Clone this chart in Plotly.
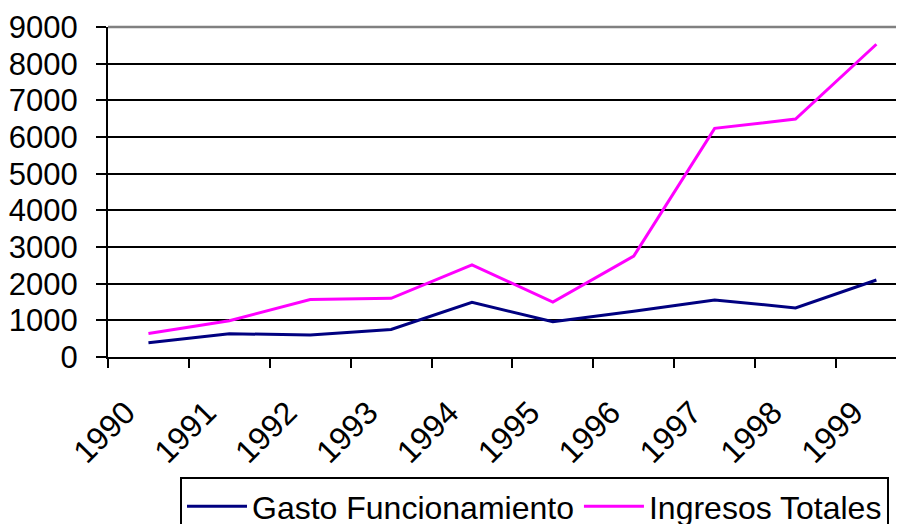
import plotly.graph_objects as go

# Data
years = ['1990', '1991', '1992', '1993', '1994', '1995', '1996', '1997', '1998', '1999']
gasto_funcionamiento = [390, 635, 600, 750, 1490, 960, 1250, 1555, 1340, 2100]
ingresos_totales = [640, 990, 1570, 1600, 2510, 1500, 2750, 6235, 6490, 8530]

font_family = 'Liberation Sans, Arial, sans-serif'
fs = 31

# category positions: points sit in the middle of each category slot
pos = [i + 0.5 for i in range(len(years))]

fig = go.Figure()
fig.add_trace(go.Scatter(
    x=pos, y=gasto_funcionamiento, name='Gasto Funcionamiento',
    mode='lines', line=dict(color='#000080', width=3),
))
fig.add_trace(go.Scatter(
    x=pos, y=ingresos_totales, name='Ingresos Totales',
    mode='lines', line=dict(color='#FF00FF', width=3),
))

# the page body adds an 8px offset, so margins are shifted accordingly
fig.update_layout(
    width=904, height=524,
    margin=dict(l=100, r=0, t=19, b=175, autoexpand=False),
    plot_bgcolor='white', paper_bgcolor='white',
    font=dict(family=font_family, size=fs, color='black'),
    showlegend=True,
    legend=dict(
        orientation='h', xref='container', yref='container',
        x=172 / 904, xanchor='left', y=1 - 469 / 524, yanchor='top',
        bordercolor='black', borderwidth=2, bgcolor='white',
        font=dict(size=32), itemwidth=60, tracegroupgap=0,
    ),
    xaxis=dict(
        range=[0, 9.94], showgrid=False, zeroline=False, automargin=False,
        showline=True, linecolor='black', linewidth=2,
        tickmode='array', tickvals=[i + 0.22 for i in range(len(years))],
        ticktext=years, tickangle=-45, ticks='', ticklabelstandoff=22,
        tickfont=dict(size=32),
        minor=dict(tickmode='array', tickvals=list(range(len(years))),
                   ticks='outside', ticklen=9, tickwidth=2, tickcolor='black',
                   showgrid=False),
    ),
    yaxis=dict(
        range=[0, 9000], dtick=1000, tick0=0, automargin=False,
        showgrid=True, gridcolor='black', gridwidth=2, zeroline=False,
        showline=True, linecolor='black', linewidth=2,
        ticks='outside', ticklen=10, tickwidth=2, tickcolor='black',
        ticklabelstandoff=12,
    ),
    shapes=[dict(type='line', xref='paper', yref='paper', x0=0, x1=1, y0=1, y1=1,
                 line=dict(color='#808080', width=2.5), layer='above')],
)

fig.write_html('out.html')
